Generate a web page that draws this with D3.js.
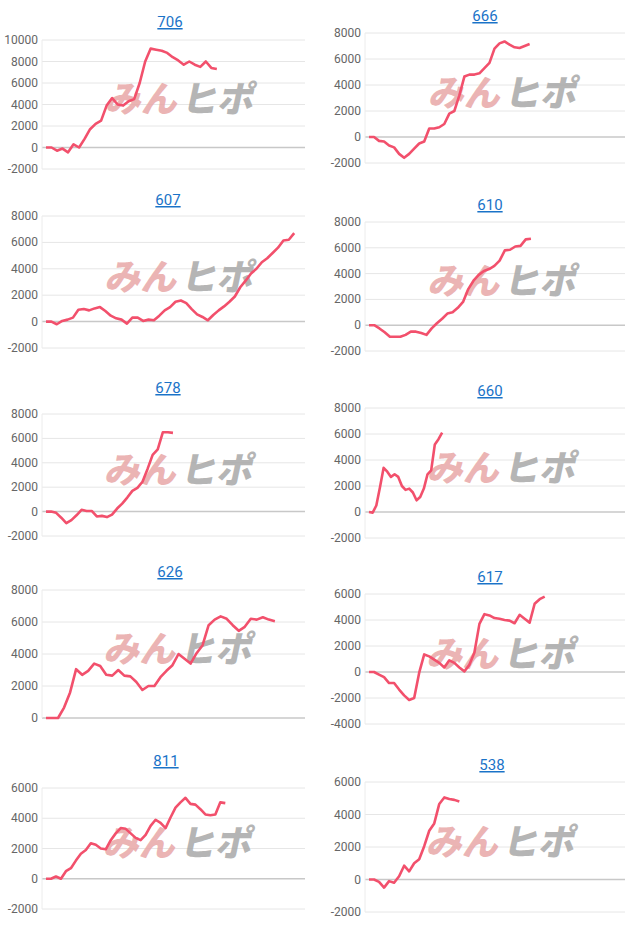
<!DOCTYPE html>
<html><head><meta charset="utf-8">
<script src="https://cdn.jsdelivr.net/npm/d3@7"></script>
<style>body{margin:0;background:#fff}svg{display:block}</style>
</head><body>
<script>
const titles = ["706","666","607","610","678","660","626","617","811","538"];
const s706 = [0,0,-300,-100,-450,300,0,800,1700,2200,2500,3900,4600,4000,3900,4300,4500,6000,8000,9200,9100,9000,8800,8400,8100,7700,8000,7700,7500,8000,7400,7300];
const s666 = [0,0,-300,-350,-650,-800,-1300,-1600,-1300,-900,-500,-350,650,650,750,1000,1800,2000,3200,4650,4800,4800,4900,5300,5700,6800,7200,7350,7100,6900,6850,7000,7150];
const s607 = [0,0,-200,50,150,300,900,950,850,1000,1100,800,450,250,150,-150,300,300,50,150,100,450,850,1100,1500,1600,1400,950,550,350,100,500,850,1150,1500,1900,2600,3100,3650,4000,4500,4800,5200,5600,6150,6200,6700];
const s610 = [0,0,-250,-550,-900,-900,-900,-750,-500,-500,-600,-750,-250,150,500,900,1000,1350,1800,2800,3450,3900,4200,4350,4600,5000,5800,5850,6100,6150,6650,6700];
const s678 = [0,0,-100,-500,-950,-700,-300,150,50,50,-400,-350,-450,-250,250,650,1150,1700,1950,2450,3500,4650,5100,6500,6500,6450];
const s660 = [0,-50,500,1900,3400,3100,2700,2900,2700,2000,1700,1800,1500,900,1150,1800,2900,3200,5200,5600,6100];
const s626 = [0,0,0,650,1600,3050,2700,2950,3400,3250,2700,2650,3000,2650,2600,2250,1750,2000,2000,2550,2950,3300,4000,3700,3400,4050,4550,5800,6150,6350,6200,5800,5450,5700,6200,6150,6300,6150,6050];
const s617 = [0,0,-200,-400,-850,-850,-1350,-1800,-2150,-2000,-50,1350,1200,950,700,350,900,700,350,50,550,1500,3700,4450,4350,4150,4100,4000,3950,3750,4400,4100,3800,5250,5600,5800];
const s811 = [0,0,150,0,500,700,1200,1650,1900,2350,2250,2000,1950,2550,3000,3350,3300,3000,2700,2550,2900,3500,3900,3700,3350,4050,4700,5050,5350,4950,4900,4600,4250,4200,4250,5050,5000];
const s538 = [0,0,-150,-500,-100,-200,200,850,500,1000,1250,2050,3000,3450,4650,5050,4950,4900,4800];
const series = [s706,s666,s607,s610,s678,s660,s626,s617,s811,s538];
const yMax = [10000,8000,8000,8000,8000,8000,8000,6000,6000,6000];
const yMin = [-2000,-2000,-2000,-2000,-2000,-2000,0,-4000,-2000,-2000];
const xSlots = [47,51,48,49,51,70,43,51,52,51];

const L = [
 {x0:42,x1:305,tx:170,ty:22,top:40,bot:169},
 {x0:365,x1:625,tx:485,ty:16,top:33,bot:163},
 {x0:42,x1:305,tx:168,ty:200,top:216,bot:348},
 {x0:365,x1:625,tx:490,ty:205,top:222,bot:351},
 {x0:42,x1:305,tx:168,ty:388,top:414,bot:536},
 {x0:365,x1:625,tx:490,ty:391,top:408,bot:538},
 {x0:42,x1:305,tx:170,ty:572,top:590,bot:718},
 {x0:365,x1:625,tx:490,ty:577,top:594,bot:724},
 {x0:42,x1:305,tx:166,ty:761,top:788,bot:909},
 {x0:365,x1:625,tx:492,ty:765,top:782,bot:912}
];
const svg = d3.select("body").append("svg").attr("width",640).attr("height",931);
series.forEach((vals,i)=>{
  const g = svg.append("g"), l = L[i];
  const y = d3.scaleLinear().domain([yMin[i],yMax[i]]).range([l.bot,l.top]);
  const x = d3.scaleLinear().domain([0,xSlots[i]]).range([l.x0+4,l.x1]);
  const ticks = d3.range(yMin[i], yMax[i]+1, 2000);
  g.selectAll(".gl").data(ticks).join("line")
   .attr("x1",l.x0).attr("x2",l.x1).attr("y1",d=>y(d)).attr("y2",d=>y(d))
   .attr("stroke",d=>d===0?"#c8c8c8":"#e6e6e6").attr("stroke-width",d=>d===0?1.5:1);
  g.append("line").attr("x1",l.x0).attr("x2",l.x0).attr("y1",l.top).attr("y2",l.bot).attr("stroke","#ececec");
  g.selectAll(".tl").data(ticks).join("text")
   .attr("x",l.x0-4).attr("y",d=>y(d)+4).attr("text-anchor","end")
   .attr("font-family","Roboto, Arial, sans-serif").attr("font-size",12).attr("fill","#666").text(d=>d);
  const wx = l.x0+63, wy = (l.top+l.bot)/2+8;
  const wm = g.append("text").attr("x",wx).attr("y",wy).attr("font-family","Noto Sans CJK JP")
    .attr("font-weight","900").attr("font-size",36).attr("transform",`skewX(-12) translate(${wy*0.21},0)`);
  wm.append("tspan").attr("fill","#e8a7a7").attr("fill-opacity",0.85).text("みん");
  wm.append("tspan").attr("fill","#a8a8a8").attr("fill-opacity",0.85).attr("dx",4).text("ヒポ");
  g.append("path").datum(vals).attr("fill","none").attr("stroke","#f2506c").attr("stroke-width",2.6)
   .attr("stroke-linejoin","round")
   .attr("d",d3.line().x((d,j)=>x(j)).y(d=>y(d)));
  g.append("text").attr("x",l.tx).attr("y",l.ty+5).attr("text-anchor","middle")
   .attr("font-family","Roboto, Arial, sans-serif").attr("font-size",15).attr("fill","#1a73c8")
   .attr("text-decoration","underline").text(titles[i]);
});
</script>
</body></html>
